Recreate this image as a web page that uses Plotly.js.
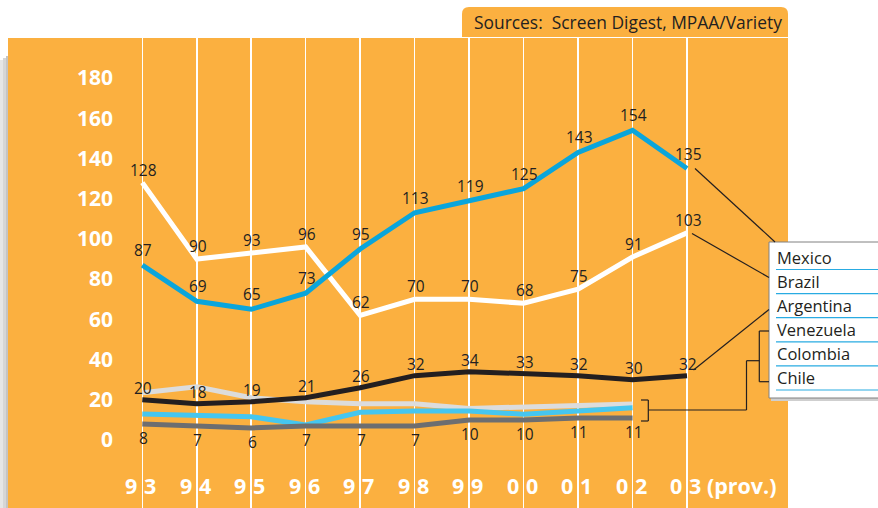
<!DOCTYPE html>
<html>
<head>
<meta charset="utf-8">
<script src="https://cdn.plot.ly/plotly-3.0.1.min.js"></script>
<style>html,body{margin:0;padding:0;background:#fff;}#chart{width:878px;height:508px;}</style>
</head>
<body>
<div id="chart"></div>
<script>
// ---- data ----
const years = ['93','94','95','96','97','98','99','00','01','02','03'];
const tickLeft = ['9','9','9','9','9','9','9','0','0','0','0'];
const tickRight = ['3','4','5','6','7','8','9','0','1','2','3 (prov.)'];
const yTicks = [0,20,40,60,80,100,120,140,160,180];
const mexico = [87,69,65,73,95,113,119,125,143,154,135];
const brazil = [128,90,93,96,62,70,70,68,75,91,103];
const argentina = [20,18,19,21,26,32,34,33,32,30,32];
const venezuela = [23.5,26.5,21,19,18,18,15.7,16.6,17.2,17.9];
const colombia = [13,12,11.6,7.5,13.8,14.4,14.4,12.8,14.4,16];
const chile = [8,7,6,7,7,7,10,10,11,11];
const legendNames = ['Mexico','Brazil','Argentina','Venezuela','Colombia','Chile'];
const sourceText = 'Sources:  Screen Digest, MPAA/Variety';

// ---- layout helpers (pixel -> paper) ----
const L = 118, R = 788, T = 38, B = 508;
const px = x => (x - L) / (R - L);
const py = y => (B - y) / (B - T);

const ORANGE = '#FBB040';
const DARK = '#231F20';
const font = 'Open Sans, sans-serif';

function line(name, x, y, color, w) {
  return {type:'scatter', mode:'lines', name:name, x:x, y:y,
          line:{color:color, width:w||5}, hoverinfo:'skip', showlegend:false};
}
const traces = [
  line('Venezuela', years.slice(0, venezuela.length), venezuela, '#DCDCDC'),
  line('Colombia', years.slice(0, colombia.length), colombia, '#45C6EF'),
  line('Chile', years.slice(0, chile.length), chile, '#6D6E70'),
  line('Argentina', years, argentina, DARK),
  line('Brazil', years, brazil, '#FFFFFF'),
  line('Mexico', years, mexico, '#0AA5DB')
];

const annotations = [];
function labels(vals, yshift) {
  vals.forEach((v, i) => annotations.push({
    x: i, y: v, xref:'x', yref:'y', text: String(Math.round(v)),
    xanchor:'center', yanchor:'middle',
    showarrow:false, yshift:yshift, xshift:1,
    font:{family:font, size:15.5, color:DARK}
  }));
}
labels(mexico, 15);
labels(brazil, 13);
labels(argentina, 12);
labels(chile, -14);

// x tick labels
years.forEach((c, i) => {
  annotations.push({x:i, y:-22.7, xref:'x', yref:'y', text:tickLeft[i], xanchor:'right', yanchor:'middle',
    showarrow:false, xshift:-3, font:{family:font, size:21.5, color:'#FFFFFF', weight:'bold'}});
  annotations.push({x:i, y:-22.7, xref:'x', yref:'y', text:tickRight[i], xanchor:'left', yanchor:'middle',
    showarrow:false, xshift:0, font:{family:font, size:21.5, color:'#FFFFFF', weight:'bold'}});
});

// legend text
legendNames.forEach((n, i) => annotations.push({
  x: px(775), y: py(257 + i * 24.2), xref:'paper', yref:'paper', text:n,
  xanchor:'left', yanchor:'middle', showarrow:false, font:{family:font, size:16.5, color:DARK}
}));
// sources
annotations.push({x: px(472), y: py(22.5), xref:'paper', yref:'paper', text:sourceText,
  xanchor:'left', yanchor:'middle', showarrow:false, font:{family:font, size:17.4, color:DARK}});

const shapes = [];
function rect(x0, y0, x1, y1, fill, layer, lc, lw) {
  shapes.push({type:'rect', xref:'paper', yref:'paper', x0:px(x0), x1:px(x1), y0:py(y1), y1:py(y0),
    fillcolor:fill, line:{color:lc||fill, width:lw||0}, layer:layer||'below'});
}
function seg(x0, y0, x1, y1, color, w) {
  shapes.push({type:'line', xref:'paper', yref:'paper', x0:px(x0), x1:px(x1), y0:py(y0), y1:py(y1),
    line:{color:color||DARK, width:w||1.2}, layer:'above'});
}
// left shadow
rect(0, 60, 3, 508, '#e6e6e6');
rect(3, 58, 6, 508, '#d6d6d6');
rect(6, 56, 8, 508, '#c4c4c4');
// main orange
rect(8, 38, 788, 508, ORANGE);
// sources tab with rounded top corners
shapes.push({type:'path', xref:'paper', yref:'paper', layer:'below',
  path:`M ${px(462)} ${py(37)} L ${px(462)} ${py(14)} Q ${px(462)} ${py(7)} ${px(469)} ${py(7)} L ${px(781)} ${py(7)} Q ${px(788)} ${py(7)} ${px(788)} ${py(14)} L ${px(788)} ${py(37)} Z`,
  fillcolor:ORANGE, line:{width:0}});
// legend box + shadow
rect(771, 244, 880, 401, '#cfcfcf', 'above');
rect(769, 242, 880, 398, '#FFFFFF', 'above', '#808080', 1);
for (let i = 0; i < legendNames.length; i++) {
  seg(776, 269.5 + i * 24.1, 878, 269.5 + i * 24.1, '#29ABE2', 1.2);
}
// leader lines
seg(695, 168.5, 775, 242);
seg(692, 233.5, 769, 277.5);
seg(693.5, 370, 769, 309.5);
// right bracket
seg(759.3, 331, 769, 331);
seg(759.3, 331, 759.3, 381.7);
seg(759.3, 381.7, 769, 381.7);
// connector
seg(759.3, 360.7, 746.5, 360.7);
seg(746.5, 360.7, 746.5, 410);
seg(746.5, 410, 648.3, 410);
// left bracket
seg(641, 400, 648.3, 400);
seg(648.3, 400, 648.3, 421);
seg(641, 421, 648.3, 421);

const layout = {
  width:878, height:508,
  margin:{l:L, r:878-R, t:T, b:0, pad:0},
  paper_bgcolor:'#FFFFFF', plot_bgcolor:'rgba(0,0,0,0)',
  showlegend:false,
  xaxis:{type:'category', categoryarray:years, range:[-0.446, 11.854],
    showgrid:true, gridcolor:'#FFFFFF', gridwidth:1.5, showticklabels:false,
    zeroline:false, showline:false, ticks:'', fixedrange:true},
  yaxis:{range:[-33.8, 199.9], tickvals:yTicks, ticktext:yTicks.map(String),
    showgrid:false, zeroline:false, showline:false, ticks:'', ticklabelstandoff:4,
    tickfont:{family:font, size:21, color:'#FFFFFF', weight:'bold'}, fixedrange:true},
  shapes:shapes, annotations:annotations
};
Plotly.newPlot('chart', traces, layout, {displayModeBar:false, staticPlot:true});
</script>
</body>
</html>
